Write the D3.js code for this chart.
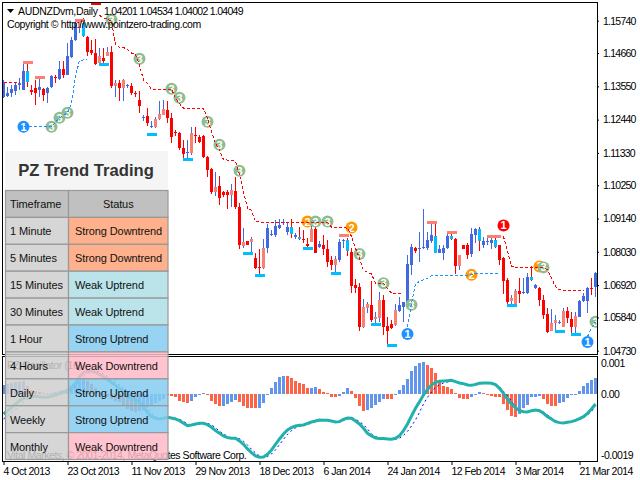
<!DOCTYPE html>
<html lang="en">
<head>
<meta charset="UTF-8">
<title>PZ Trend Trading</title>
<script src="https://d3js.org/d3.v7.min.js"></script>
<style>
  body { margin: 0; background: #fff; }
  svg { display: block; }
  text { font-family: "Liberation Sans", Arial, sans-serif; fill: #000; }
</style>
</head>
<body>
<svg id="chart" width="640" height="480"></svg>
<script>
// Daily candles, one entry per bar
const opens = [
  1.1321,1.1323,1.1332,1.1338,1.1360,1.1343,1.1405,1.1343,1.1349,1.1343,
  1.1346,1.1332,1.1352,1.1386,1.1379,1.1412,1.1394,1.1453,1.1508,1.1549,
  1.1566,1.1519,1.1475,1.1466,1.1433,1.1449,1.1457,1.1471,1.1355,1.1366,
  1.1349,1.1355,1.1355,1.1332,1.1310,1.1252,1.1257,1.1221,1.1218,1.1246,
  1.1260,1.1277,1.1250,1.1203,1.1199,1.1149,1.1134,1.1134,1.1192,1.1185,
  1.1190,1.1119,1.1079,1.1003,1.1023,1.1002,1.1003,1.0994,1.1006,1.0952,
  1.0823,1.0839,1.0834,1.0783,1.0751,1.0749,1.0814,1.0860,1.0860,1.0884,
  1.0899,1.0869,1.0886,1.0853,1.0854,1.0845,1.0829,1.0836,1.0879,1.0820,
  1.0826,1.0813,1.0776,1.0759,1.0776,1.0839,1.0842,1.0803,1.0692,1.0685,
  1.0551,1.0617,1.0626,1.0578,1.0583,1.0642,1.0556,1.0562,1.0558,1.0607,
  1.0620,1.0629,1.0759,1.0814,1.0814,1.0814,1.0816,1.0839,1.0856,1.0800,
  1.0800,1.0815,1.0856,1.0845,1.0756,1.0825,1.0826,1.0796,1.0859,1.0878,
  1.0826,1.0836,1.0832,1.0843,1.0824,1.0781,1.0709,1.0639,1.0629,1.0672,
  1.0665,1.0665,1.0718,1.0681,1.0682,1.0642,1.0594,1.0540,1.0564,1.0568,
  1.0553,1.0606,1.0578,1.0553,1.0587,1.0640,1.0640,1.0681,1.0685
];
const closes = [
  1.1371,1.1332,1.1347,1.1360,1.1366,1.1405,1.1371,1.1335,1.1332,1.1352,
  1.1327,1.1349,1.1390,1.1384,1.1414,1.1394,1.1457,1.1510,1.1566,1.1571,
  1.1522,1.1471,1.1466,1.1430,1.1457,1.1439,1.1471,1.1355,1.1366,1.1349,
  1.1377,1.1359,1.1332,1.1330,1.1290,1.1254,1.1232,1.1223,1.1246,1.1263,
  1.1279,1.1249,1.1185,1.1199,1.1149,1.1130,1.1136,1.1199,1.1188,1.1168,
  1.1119,1.1076,1.1001,1.1019,1.0984,1.0991,1.0994,1.1010,1.0951,1.0826,
  1.0837,1.0826,1.0845,1.0749,1.0750,1.0816,1.0883,1.0863,1.0889,1.0893,
  1.0902,1.0886,1.0863,1.0859,1.0845,1.0843,1.0823,1.0878,1.0800,1.0828,
  1.0812,1.0770,1.0759,1.0779,1.0836,1.0842,1.0804,1.0689,1.0682,1.0553,
  1.0618,1.0628,1.0576,1.0584,1.0642,1.0553,1.0540,1.0549,1.0609,1.0625,
  1.0635,1.0763,1.0818,1.0805,1.0816,1.0818,1.0843,1.0859,1.0800,1.0813,
  1.0817,1.0856,1.0845,1.0757,1.0793,1.0813,1.0793,1.0863,1.0879,1.0839,
  1.0840,1.0839,1.0843,1.0820,1.0776,1.0707,1.0637,1.0650,1.0672,1.0662,
  1.0669,1.0718,1.0709,1.0692,1.0642,1.0592,1.0537,1.0564,1.0576,1.0570,
  1.0606,1.0581,1.0553,1.0589,1.0639,1.0657,1.0682,1.0679,1.0731
];
const highs = [
  1.1377,1.1352,1.1360,1.1366,1.1382,1.1433,1.1433,1.1360,1.1377,1.1382,
  1.1349,1.1352,1.1394,1.1394,1.1438,1.1438,1.1499,1.1519,1.1577,1.1577,
  1.1583,1.1522,1.1510,1.1513,1.1483,1.1483,1.1486,1.1488,1.1377,1.1377,
  1.1379,1.1364,1.1366,1.1338,1.1338,1.1260,1.1282,1.1238,1.1254,1.1305,
  1.1310,1.1305,1.1266,1.1210,1.1204,1.1177,1.1177,1.1221,1.1221,1.1193,
  1.1193,1.1121,1.1082,1.1070,1.1055,1.1006,1.1010,1.1030,1.1054,1.0965,
  1.0882,1.0839,1.0854,1.0798,1.0813,1.0845,1.0896,1.0876,1.0909,1.0912,
  1.0912,1.0904,1.0912,1.0867,1.0887,1.0876,1.0848,1.0909,1.0893,1.0839,
  1.0859,1.0843,1.0789,1.0789,1.0845,1.0845,1.0848,1.0815,1.0711,1.0700,
  1.0645,1.0637,1.0704,1.0602,1.0669,1.0659,1.0584,1.0576,1.0629,1.0651,
  1.0637,1.0793,1.0829,1.0818,1.0870,1.0946,1.0870,1.0898,1.0898,1.0826,
  1.0826,1.0865,1.0870,1.0848,1.0793,1.0826,1.0832,1.0882,1.0882,1.0887,
  1.0854,1.0848,1.0859,1.0854,1.0824,1.0787,1.0715,1.0659,1.0678,1.0715,
  1.0715,1.0731,1.0756,1.0694,1.0685,1.0659,1.0614,1.0611,1.0592,1.0576,
  1.0614,1.0618,1.0603,1.0603,1.0642,1.0665,1.0685,1.0715,1.0734
];
const lows = [
  1.1316,1.1321,1.1321,1.1327,1.1343,1.1343,1.1352,1.1327,1.1293,1.1321,
  1.1305,1.1299,1.1349,1.1366,1.1377,1.1382,1.1394,1.1449,1.1505,1.1533,
  1.1519,1.1455,1.1460,1.1427,1.1427,1.1433,1.1455,1.1349,1.1321,1.1305,
  1.1305,1.1349,1.1327,1.1319,1.1266,1.1241,1.1223,1.1215,1.1215,1.1243,
  1.1260,1.1234,1.1165,1.1188,1.1143,1.1115,1.1112,1.1126,1.1165,1.1165,
  1.1115,1.1054,1.0996,1.0990,1.0960,1.0985,1.0946,1.0954,1.0945,1.0812,
  1.0815,1.0826,1.0798,1.0745,1.0722,1.0745,1.0800,1.0856,1.0854,1.0878,
  1.0893,1.0859,1.0848,1.0845,1.0843,1.0832,1.0809,1.0834,1.0800,1.0815,
  1.0793,1.0751,1.0742,1.0726,1.0770,1.0815,1.0789,1.0667,1.0667,1.0540,
  1.0548,1.0600,1.0570,1.0561,1.0570,1.0525,1.0492,1.0544,1.0556,1.0603,
  1.0570,1.0626,1.0724,1.0800,1.0770,1.0813,1.0809,1.0832,1.0798,1.0798,
  1.0776,1.0812,1.0843,1.0729,1.0742,1.0813,1.0779,1.0785,1.0832,1.0804,
  1.0815,1.0826,1.0812,1.0815,1.0759,1.0662,1.0626,1.0626,1.0626,1.0633,
  1.0662,1.0662,1.0704,1.0680,1.0622,1.0578,1.0533,1.0540,1.0537,1.0562,
  1.0553,1.0564,1.0529,1.0529,1.0584,1.0637,1.0600,1.0659,1.0653
];
// bars whose body is repainted by the indicator
const salmonBars = [19,24,26,28,30,38,39,40,47,53,57,60,62,65,77,83,90,91,93,94,98,114,127,128,137,138,140,143];
const cyanBars = [6,20,72,74,86,108,112,119,123,132];

// swing markers: [bar, price]
const topDashes = [[6,1.1437],[9,1.1386],[19,1.1577],[85,1.0858],[107,1.0902],[112,1.0868],[122,1.0855],[123,1.0855]];
const redTopDashes = [[23,1.1633]];
const bottomDashes = [[25,1.1429],[37,1.1195],[46,1.1112],[61,1.0798],[64,1.0725],[76,1.0815],[83,1.0731],[93,1.0561],[97,1.0491],[127,1.0625],[139,1.0538],[143,1.0528]];

// trailing stop lines: [bar, price]
const redStops = [
  [[0,1.1369],[4,1.1369]],
  [[24,1.1592],[25,1.1583],[26,1.1579],[27,1.1572],[28,1.1494],[29,1.1485],[30,1.1485],[31,1.1477],[32,1.1466],[33,1.1460],
   [34,1.1427],[35,1.1375],[36,1.1364],[37,1.1346],[42,1.1346],[43,1.1316],[44,1.1297],[45,1.1282],[50,1.1282],[51,1.1249],
   [52,1.1204],[53,1.1165],[54,1.1143],[55,1.1110],[56,1.1109],[57,1.1108],[58,1.1104],[59,1.1060],[60,1.1004],[61,1.0948],
   [62,1.0941],[63,1.0904],[64,1.0902],[81,1.0902],[82,1.0885],[86,1.0882],[87,1.0854],[88,1.0815],[89,1.0781],[90,1.0742],
   [91,1.0735],[92,1.0729],[93,1.0698],[95,1.0698],[96,1.0681],[97,1.0665],[98,1.0663],[100,1.0662]],
  [[125,1.0854],[126,1.0804],[127,1.0754],[128,1.0751],[135,1.0751],[136,1.0742],[137,1.0715],[138,1.0687],[139,1.0676],[140,1.0675],[145,1.0675]]
];
const blueStops = [
  [[5,1.1220],[12,1.1220],[14,1.1250],[16,1.1267],[17,1.1299],[18,1.1388],[19,1.1441],[20,1.1443],[21,1.1444]],
  [[101,1.0553],[102,1.0631],[103,1.0696],[104,1.0704],[105,1.0709],[106,1.0715],[107,1.0724],[116,1.0725],[117,1.0726],[118,1.0730],[124,1.0730]],
  [[146,1.0520],[147,1.0548],[148,1.0570]]
];

// numbered signals
const signalBars = [5,12,14,16,27,34,42,44,51,54,59,76,78,81,87,89,95,101,102,117,125,134,135,146,148];
const signalPrices = [1.1220,1.1220,1.1250,1.1267,1.1577,1.1447,1.1347,1.1317,1.1237,1.1160,1.1073,1.0904,1.0904,1.0904,1.0884,1.0796,1.0698,1.0529,1.0626,1.0726,1.0891,1.0754,1.0751,1.0502,1.0570];
const signalKinds = [1,3,3,3,3,3,3,3,3,3,3,2,3,3,2,3,3,1,3,2,4,2,3,1,3];

// lower panel, all in units of 0.00001
const histogram = [
  28,31,33,35,36,38,25,12,8,5,3,1,3,6,9,13,17,22,30,38,45,40,30,17,4,
  -3,-8,-15,-20,-25,-35,-45,-52,-53,-50,-47,-40,-35,-28,-22,-15,-4,
  -5,-10,-20,-23,-26,-20,-8,1,2,-3,-22,-31,-36,-35,-30,-23,-18,-25,-35,-41,-42,-43,-41,-28,-4,
  19,37,50,54,54,47,39,34,30,18,19,20,15,7,2,-8,-10,-6,7,19,10,-13,-35,-50,-49,-43,-33,-23,-14,-15,-16,
  -3,12,27,44,69,85,92,96,87,77,64,37,24,20,14,4,-13,-15,-15,-8,-4,6,4,-1,-5,-8,-10,-30,-48,-66,-70,
  -60,-43,-33,-10,-8,-6,-16,-30,-36,-36,-28,-23,-13,-4,1,9,24,34,42,49
];
const mainLine = [
  -60,-50,-41,-30,-20,-13,-9,-7,-6,-8,-10,-10,-6,-3,1,7,10,20,32,52,
  64,70,69,65,59,52,44,35,26,16,7,-6,-13,-18,-28,-38,-56,-68,-73,-75,
  -73,-70,-72,-75,-80,-88,-95,-93,-90,-88,-88,-92,-100,-110,-118,-126,-131,-133,-133,-141,
  -151,-165,-176,-186,-190,-189,-181,-168,-151,-135,-120,-108,-101,-96,-94,-93,-88,-84,-81,-78,
  -79,-79,-81,-84,-83,-76,-72,-73,-81,-90,-103,-118,-126,-132,-134,-134,-135,-136,-133,-125,
  -110,-90,-66,-43,-23,-3,14,27,35,38,39,40,41,37,33,31,27,26,29,32,
  33,33,32,28,17,2,-16,-30,-41,-50,-53,-54,-50,-48,-50,-58,-68,-75,-83,-86,
  -87,-85,-83,-79,-74,-68,-58,-45,-30
];
const signalLine = [
  -75,-66,-56,-46,-35,-25,-16,-11,-8,-7,-8,-10,-9,-6,-3,2,7,12,22,38,
  52,62,68,69,66,60,53,45,36,27,17,6,-7,-14,-20,-30,-42,-58,-68,-74,
  -75,-72,-71,-73,-76,-82,-90,-95,-93,-90,-88,-88,-93,-101,-112,-120,-127,-132,-134,-134,
  -142,-153,-166,-177,-186,-190,-188,-180,-168,-152,-136,-121,-110,-102,-97,-94,-92,-87,-83,-80,
  -78,-78,-80,-83,-84,-80,-74,-72,-75,-83,-92,-105,-120,-128,-132,-134,-135,-135,-136,-133,
  -124,-112,-96,-78,-55,-30,-10,6,20,28,33,36,38,38,35,32,29,27,27,30,
  32,33,32,30,22,8,-5,-22,-38,-48,-52,-54,-52,-49,-49,-54,-63,-72,-80,-85,
  -87,-86,-84,-81,-77,-71,-63,-52,-38
];

// axes
const priceTicks = [1.1574,1.1466,1.1355,1.1244,1.1133,1.1025,1.0914,1.0803,1.0692,1.0584,1.0473];
const oscTicks = [93,0,-185];
const oscLabels = ["0.001","0.00","-0.0019"];
const dateBars = [0,16,32,48,64,80,96,112,128,144];
const dateLabels = ["4 Oct 2013","23 Oct 2013","11 Nov 2013","29 Nov 2013","18 Dec 2013","6 Jan 2014","24 Jan 2014","12 Feb 2014","3 Mar 2014","21 Mar 2014"];

// status table
const timeframes = ["1 Minute","5 Minutes","15 Minutes","30 Minutes","1 Hour","4 Hours","Daily","Weekly","Monthly"];
const statuses = ["Strong Downtrend","Strong Downtrend","Weak Uptrend","Weak Uptrend","Strong Uptrend","Weak Downtrend","Strong Uptrend","Strong Uptrend","Weak Downtrend"];

const statusColor = {
  "Strong Downtrend": "#ffa278",
  "Weak Uptrend": "#afdee6",
  "Strong Uptrend": "#85cbf1",
  "Weak Downtrend": "#ffbac8"
};
const signalStyle = {
  1: { fill: "#1e90ff", label: "1" },
  2: { fill: "#ff9900", label: "2" },
  3: { fill: "#8fbc8f", label: "3" },
  4: { fill: "#ff0000", label: "1" }
};

const svg = d3.select("#chart");

const x = d3.scaleLinear().domain([0, 148]).range([3.5, 595.5]);
const y = d3.scaleLinear().domain([1.0473, 1.1574]).range([350.7, 20.7]);
const oscY = d3.scaleLinear().domain([-100, 100]).range([427.3, 360.7]);

svg.append("clipPath").attr("id", "mainClip")
  .append("rect").attr("x", 3).attr("y", 3).attr("width", 594).attr("height", 351);
svg.append("clipPath").attr("id", "oscClip")
  .append("rect").attr("x", 3).attr("y", 357).attr("width", 594).attr("height", 105);

const main = svg.append("g").attr("clip-path", "url(#mainClip)");
const osc = svg.append("g").attr("clip-path", "url(#oscClip)");

// candles
const bars = d3.range(opens.length);
const upColor = "#4169e1", downColor = "#ff0000";
const isUp = i => closes[i] >= opens[i];

main.append("g").attr("shape-rendering", "crispEdges").selectAll("line").data(bars).join("line")
  .attr("x1", i => x(i)).attr("x2", i => x(i))
  .attr("y1", i => y(highs[i])).attr("y2", i => y(lows[i]))
  .attr("stroke", i => isUp(i) ? upColor : downColor);

main.append("g").attr("shape-rendering", "crispEdges").selectAll("rect").data(bars).join("rect")
  .attr("x", i => x(i) - 1.5).attr("width", 3)
  .attr("y", i => y(Math.max(opens[i], closes[i])))
  .attr("height", i => Math.max(1, Math.abs(y(opens[i]) - y(closes[i]))))
  .attr("fill", i => {
    if (salmonBars.includes(i)) return "#fa8072";
    if (cyanBars.includes(i)) return "#00bfff";
    return isUp(i) ? upColor : downColor;
  });

// swing dashes
function drawDashes(data, color) {
  main.append("g").attr("shape-rendering", "crispEdges").selectAll("rect").data(data).join("rect")
    .attr("x", d => x(d[0]) - 5).attr("width", 10)
    .attr("y", d => y(d[1]) - 1).attr("height", 3)
    .attr("fill", color);
}
drawDashes(topDashes, "#fa8072");
drawDashes(redTopDashes, "#ff0000");
drawDashes(bottomDashes, "#00bfff");

// numbered circles
const signals = main.append("g").selectAll("g").data(signalBars).join("g")
  .attr("transform", (d, k) => `translate(${x(d)},${y(signalPrices[k])})`);
signals.append("circle").attr("r", 6).attr("fill", (d, k) => signalStyle[signalKinds[k]].fill);
signals.append("text")
  .attr("text-anchor", "middle").attr("y", 4)
  .style("font-size", "11px").style("font-weight", "bold").style("fill", "#fff")
  .text((d, k) => signalStyle[signalKinds[k]].label);

// stop lines
const stopLine = d3.line().x(d => x(d[0])).y(d => y(d[1]));
main.append("g").attr("shape-rendering", "crispEdges").selectAll("path").data(redStops).join("path")
  .attr("d", stopLine).attr("fill", "none").attr("stroke", "#ff0000").attr("stroke-dasharray", "3,2");
main.append("g").attr("shape-rendering", "crispEdges").selectAll("path").data(blueStops).join("path")
  .attr("d", stopLine).attr("fill", "none").attr("stroke", "#1e90ff").attr("stroke-dasharray", "3,2");

// oscillator histogram
osc.append("g").attr("shape-rendering", "crispEdges").selectAll("rect").data(histogram).join("rect")
  .attr("x", (d, i) => x(i) - 1.5).attr("width", 3)
  .attr("y", d => oscY(Math.max(d, 0)))
  .attr("height", d => Math.max(1, Math.abs(oscY(d) - oscY(0))))
  .attr("fill", (d, i) => i > 0 && d > histogram[i - 1] || i === 0 ? "#6495ed" : "#ff6347");

const oscLine = d3.line().x((d, i) => x(i)).y(d => oscY(d));
osc.append("path").datum(signalLine).attr("d", oscLine)
  .attr("fill", "none").attr("stroke", "#0000ff").attr("stroke-dasharray", "2,3");
osc.append("path").datum(mainLine).attr("d", oscLine)
  .attr("fill", "none").attr("stroke", "#20b2aa").attr("stroke-width", 3);

// frames
svg.append("rect").attr("x", 2.5).attr("y", 2.5).attr("width", 595).attr("height", 352)
  .attr("fill", "none").attr("stroke", "#000");
svg.append("rect").attr("x", 2.5).attr("y", 356.5).attr("width", 595).attr("height", 105)
  .attr("fill", "none").attr("stroke", "#000");

// axes
function styleAxis(g, spacing) {
  g.select(".domain").remove();
  g.selectAll("line").attr("stroke", "#000");
  g.selectAll("text").style("font-size", "10.5px").style("letter-spacing", spacing + "px").style("fill", "#000");
}
svg.append("g").attr("transform", "translate(597,0)")
  .call(d3.axisRight(y).tickValues(priceTicks).tickSize(2).tickPadding(4).tickFormat(d => d.toFixed(5)))
  .call(styleAxis, -0.75);
svg.append("g").attr("transform", "translate(597,0)")
  .call(d3.axisRight(oscY).tickValues(oscTicks).tickSize(0).tickPadding(4).tickFormat((d, i) => oscLabels[i]))
  .call(styleAxis, -0.5);
svg.append("g").attr("transform", "translate(0,461)")
  .call(d3.axisBottom(x).tickValues(dateBars).tickSize(4).tickPadding(3).tickFormat((d, i) => dateLabels[i]))
  .call(styleAxis, -0.5)
  .selectAll("text").attr("text-anchor", "start").attr("dx", "-0.5");

// header texts
svg.append("path").attr("d", "M7,9 L14,9 L10.5,13 Z").attr("fill", "#000");
const small = (t, px, py, spacing) => svg.append("text").attr("x", px).attr("y", py)
  .style("font-size", "10.5px").style("letter-spacing", spacing + "px").text(t);
small("AUDNZDvm,Daily", 18, 15, -0.3);
small("1.04201 1.04534 1.04002 1.04049", 104, 15, -0.7);
small("Copyright \u00a9 http://www.pointzero-trading.com", 7, 28, -0.4);
small("PZ Oscillator (16)", 7, 369, -0.4);
small("Vital Markets, \u00a9 2001-2014, MetaQuotes Software Corp.", 7, 459, -0.45);

// status panel on top, slightly see-through
const panel = svg.append("g");
const panelOpacity = 0.85;
panel.append("rect").attr("x", 5).attr("y", 151).attr("width", 163).attr("height", 39)
  .attr("fill", "#f3f3f3").attr("fill-opacity", panelOpacity);
panel.append("text").attr("x", 86).attr("y", 176).attr("text-anchor", "middle")
  .style("font-size", "16.6px").style("font-weight", "bold").style("fill", "#333")
  .text("PZ Trend Trading");

const colX = [5.5, 68.5], colW = [63, 99.5], rowTop = 190.5, rowH = 26.9;
const rowY = d3.scaleLinear().domain([0, 1]).range([rowTop, rowTop + rowH]);

function cell(col, row, fill, label, anchor) {
  panel.append("rect")
    .attr("x", colX[col]).attr("y", rowY(row)).attr("width", colW[col]).attr("height", rowH)
    .attr("fill", fill).attr("fill-opacity", panelOpacity)
    .attr("stroke", "#999").attr("stroke-width", 1.2);
  panel.append("text")
    .attr("x", anchor === "middle" ? colX[col] + colW[col] / 2 : colX[col] + (col ? 6.5 : 4.5))
    .attr("y", rowY(row) + rowH / 2 + 4.5)
    .attr("text-anchor", anchor)
    .style("font-size", "11px").style("letter-spacing", "-0.1px").style("fill", "#111")
    .text(label);
}
cell(0, 0, "#b5b5b5", "Timeframe", "start");
cell(1, 0, "#b5b5b5", "Status", "middle");
timeframes.forEach((t, i) => {
  cell(0, i + 1, "#cfcfcf", t, "start");
  cell(1, i + 1, statusColor[statuses[i]], statuses[i], "start");
});
</script>
</body>
</html>
